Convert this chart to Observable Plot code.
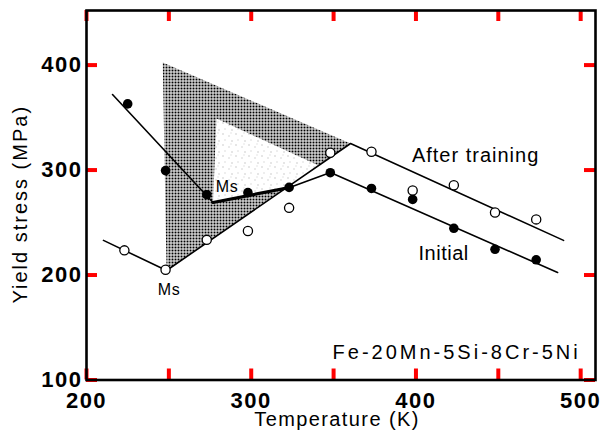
<!DOCTYPE html>
<html><head><meta charset="utf-8">
<script src="https://cdn.jsdelivr.net/npm/d3@7"></script>
<script src="https://cdn.jsdelivr.net/npm/@observablehq/plot@0.6"></script>
<style>
html,body{margin:0;padding:0;background:#fff}
svg{display:block}
</style></head><body><div id="chart"></div>
<script>
// ticks
const xTicks = [200, 250, 300, 350, 400, 450, 500];
const xTickLabels = [200, 300, 400, 500];
const yTicks = [100, 200, 300, 400];

// measured points: Initial (filled)
const tempsInitial  = [225, 248, 273, 298, 323, 348, 373, 398, 423, 448, 473];
const stressInitial = [363, 299.5, 276.5, 278.5, 283.5, 297.5, 282.5, 272, 244.5, 224.5, 214.5];
// measured points: After training (open)
const tempsTrained  = [223, 248, 273, 298, 323, 348, 373, 398, 423, 448, 473];
const stressTrained = [223.5, 205, 233.5, 242, 264, 316.5, 317.5, 280.5, 285.5, 259.5, 253];

// drawn trend lines
const fitInitialT = [215.8, 276.8, 323.3, 348.1, 486];
const fitInitialS = [372, 269.1, 283.4, 297.7, 202.4];
const thickT = [276.8, 323.3];
const thickS = [269.1, 283.4];
const fitTrainedT = [210.3, 248.6, 360.3, 489.6];
const fitTrainedS = [233, 204.3, 325.3, 233];

// shaded regions
const darkT = [246.3, 360.3, 248.6];
const darkS = [402.5, 325.3, 204.3];
const lightT = [278.9, 340.9, 323.3, 276.8];
const lightS = [349.1, 304.3, 284.5, 269.1];

// annotations
const afterText = ["After training"], afterT = [436.2], afterS = [313.9];
const initialText = ["Initial"], initialT = [416.8], initialS = [220.5];
const alloyText = ["Fe-20Mn-5Si-8Cr-5Ni"], alloyT = [424.7], alloyS = [126.2];
const msText = ["Ms", "Ms"], msT = [285.3, 250.1], msS = [284.3, 186.2];
const xTitle = ["Temperature (K)"];
const yTitle = ["Yield stress (MPa)"];

const pts = (T, S) => T.map((t, i) => ({t, s: S[i]}));
const lbl = (txt, T, S) => txt.map((k, i) => ({k, t: T[i], s: S[i]}));

const font = "'Liberation Sans', Arial, Helvetica, sans-serif";
const W = 602, H = 436, ML = 86, MR = 7, MT = 10, MB = 56.5;
const X0 = 200, X1 = 509, Y0 = 100, Y1 = 452;
const frameW = W - ML - MR, frameH = H - MT - MB, TICK = 11;

const chart = Plot.plot({
  width: W, height: H,
  marginLeft: ML, marginRight: MR, marginTop: MT, marginBottom: MB,
  x: {domain: [X0, X1], axis: null},
  y: {domain: [Y0, Y1], axis: null},
  style: {fontFamily: font, background: "#fff", color: "#000"},
  marks: [
    // inward ticks on all four sides (drawn first, under everything)
    Plot.ruleX(xTicks, {x: d => d, insetTop: frameH - TICK, stroke: "red", strokeWidth: 4}),
    Plot.ruleX(xTicks, {x: d => d, insetBottom: frameH - TICK, stroke: "red", strokeWidth: 4}),
    Plot.ruleY(yTicks, {y: d => d, insetRight: frameW - TICK, stroke: "red", strokeWidth: 4}),
    Plot.ruleY(yTicks, {y: d => d, insetLeft: frameW - TICK, stroke: "red", strokeWidth: 4}),
    Plot.line(pts(darkT, darkS), {x: "t", y: "s", fill: "url(#darkDots)", stroke: "none"}),
    Plot.line(pts(lightT, lightS), {x: "t", y: "s", fill: "url(#lightDots)", stroke: "none"}),
    Plot.line(pts(fitTrainedT, fitTrainedS), {x: "t", y: "s", stroke: "#000", strokeWidth: 1.6}),
    Plot.line(pts(fitInitialT, fitInitialS), {x: "t", y: "s", stroke: "#000", strokeWidth: 1.6}),
    Plot.line(pts(thickT, thickS), {x: "t", y: "s", stroke: "#000", strokeWidth: 3.2}),
    Plot.dot(pts(tempsTrained, stressTrained), {x: "t", y: "s", r: 4.6, fill: "#fff", stroke: "#000", strokeWidth: 1.3}),
    Plot.dot(pts(tempsInitial, stressInitial), {x: "t", y: "s", r: 4.8, fill: "#000", stroke: "none"}),
    Plot.text(lbl(afterText, afterT, afterS), {x: "t", y: "s", text: "k", fontSize: 20, fill: "#000"}),
    Plot.text(lbl(initialText, initialT, initialS), {x: "t", y: "s", text: "k", fontSize: 20, fill: "#000"}),
    Plot.text(lbl(alloyText, alloyT, alloyS), {x: "t", y: "s", text: "k", fontSize: 20, fill: "#000"}),
    Plot.text(lbl(msText, msT, msS), {x: "t", y: "s", text: "k", fontSize: 16, fill: "#000"}),
    Plot.axisX({anchor: "bottom", ticks: xTickLabels, tickSize: 0, tickPadding: 12, fontSize: 22, fontWeight: "bold", label: null}),
    Plot.axisY({anchor: "left", ticks: yTicks, tickSize: 0, tickPadding: 4, fontSize: 22, fontWeight: "bold", label: null}),
    Plot.text(xTitle, {frameAnchor: "bottom", text: d => d, dy: 40, dx: -4, lineAnchor: "middle", textAnchor: "middle", fontSize: 20, fill: "#000"}),
    Plot.text(yTitle, {frameAnchor: "left", text: d => d, rotate: -90, dx: -66, dy: 9, lineAnchor: "middle", textAnchor: "middle", fontSize: 20, fill: "#000"}),
    Plot.frame({stroke: "#000", strokeWidth: 2.6})
  ]
});

const NS = "http://www.w3.org/2000/svg";
const defs = document.createElementNS(NS, "defs");
defs.innerHTML = `
<pattern id="darkDots" patternUnits="userSpaceOnUse" width="3" height="3">
  <rect x="0" y="0" width="3" height="3" fill="#fff"/>
  <rect x="0" y="0" width="2" height="2" fill="#000"/>
</pattern>
<pattern id="lightDots" patternUnits="userSpaceOnUse" width="13" height="11">
  <rect x="0" y="0" width="13" height="11" fill="#fff"/>
  <rect x="1" y="1" width="1" height="1" fill="#999"/>
  <rect x="7" y="3" width="1" height="1" fill="#aaa"/>
  <rect x="3" y="7" width="1" height="1" fill="#bbb"/>
  <rect x="10" y="8" width="1" height="1" fill="#999"/>
  <rect x="9" y="0" width="1" height="1" fill="#ccc"/>
</pattern>`;
chart.insertBefore(defs, chart.firstChild);

const spacing = {
  "After training": 1, "Initial": 0.5, "Fe-20Mn-5Si-8Cr-5Ni": 3, "Ms": 0.5,
  "Temperature (K)": 1.4, "Yield stress (MPa)": 2,
  "100": 1.5, "200": 1.5, "300": 1.5, "400": 1.5, "500": 1.5
};
chart.querySelectorAll("text").forEach(t => {
  const s = spacing[t.textContent.trim()];
  if (s != null) t.style.letterSpacing = s + "px";
});
document.getElementById("chart").appendChild(chart);
</script>
</body></html>
